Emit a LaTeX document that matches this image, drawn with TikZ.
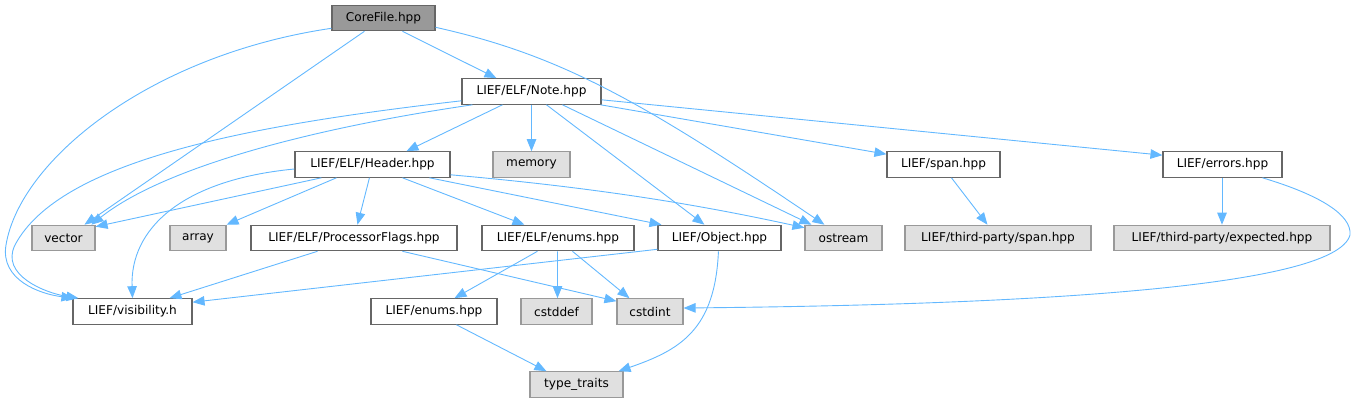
\documentclass[tikz,border=0pt]{standalone}
\usepackage{fontspec}
\setmainfont{DejaVu Sans}
\usetikzlibrary{arrows.meta}
\definecolor{edgec}{HTML}{63B8FF}
\definecolor{wborder}{HTML}{666666}
\definecolor{gborder}{HTML}{999999}
\definecolor{gfill}{HTML}{E0E0E0}
\definecolor{rfill}{HTML}{999999}
\tikzset{
  box/.style={rectangle, inner sep=0pt, minimum height=25.5pt, line width=1.1pt,
    font=\fontsize{12.1pt}{13pt}\selectfont, text=black, anchor=center},
  wbox/.style={box, draw=wborder, fill=white},
  gbox/.style={box, draw=gborder, fill=gfill},
  rootbox/.style={box, draw=wborder, fill=rfill},
  edge/.style={draw=edgec, line width=0.9pt, -{Triangle[length=12pt,width=9.5pt]}},
}
\begin{document}
\begin{tikzpicture}[x=1pt,y=-1pt]
\useasboundingbox (0,0) rectangle (1355,403);
% nodes
\node[rootbox, minimum width=103pt] (core) at (383.5,18) {CoreFile.hpp};
\node[wbox, minimum width=139pt] (note) at (531.5,91.5) {LIEF/ELF/Note.hpp};
\node[wbox, minimum width=155pt] (header) at (372.5,164.5) {LIEF/ELF/Header.hpp};
\node[gbox, minimum width=77pt] (memory) at (531.5,164.5) {memory};
\node[wbox, minimum width=113pt] (span) at (943.5,164.5) {LIEF/span.hpp};
\node[wbox, minimum width=119pt] (errors) at (1222.5,164.5) {LIEF/errors.hpp};
\node[gbox, minimum width=63pt] (vector) at (63.5,238) {vector};
\node[gbox, minimum width=56pt] (array) at (198,238) {array};
\node[wbox, minimum width=206pt] (pflags) at (354,238) {LIEF/ELF/ProcessorFlags.hpp};
\node[wbox, minimum width=152pt] (elfenums) at (558,238) {LIEF/ELF/enums.hpp};
\node[wbox, minimum width=123pt] (object) at (719.5,238) {LIEF/Object.hpp};
\node[gbox, minimum width=77pt] (ostream) at (843.5,238) {ostream};
\node[gbox, minimum width=186pt] (tpspan) at (998,238) {LIEF/third-party/span.hpp};
\node[gbox, minimum width=216pt] (tpexp) at (1222,238) {LIEF/third-party/expected.hpp};
\node[wbox, minimum width=119pt] (vis) at (132.5,311.5) {LIEF/visibility.h};
\node[wbox, minimum width=126pt] (lenums) at (434,311.5) {LIEF/enums.hpp};
\node[gbox, minimum width=71pt] (cstddef) at (556.5,311.5) {cstddef};
\node[gbox, minimum width=66pt] (cstdint) at (650,311.5) {cstdint};
\node[gbox, minimum width=93pt] (tt) at (576.5,384.5) {type\_traits};
% edges from CoreFile
\draw[edge] ([xshift=71]core.south west) -- ([xshift=35]note.north west);
\draw[edge] ([xshift=33]core.south west) -- ([xshift=53]vector.north west);
\draw[edge] ([yshift=3]core.south west) .. controls (150,55) and (20,160) .. (6,245)
  .. controls (0,280) and (40,294) .. ([xshift=1]vis.north west);
\draw[edge] ([yshift=4]core.south east) .. controls (560,55) and (640,100) .. ([xshift=20]ostream.north west);
% edges from Note
\draw[edge] ([xshift=41]note.south west) -- ([xshift=112]header.north west);
\draw[edge] (note.south) -- (memory.north);
\draw[edge] ([xshift=-1]note.south east) -- ([yshift=-3]span.north west);
\draw[edge] ([yshift=5]note.south east) -- ([yshift=-4]errors.north west);
\draw[edge] ([xshift=85]note.south west) -- ([xshift=47]object.north west);
\draw[edge] ([xshift=101]note.south west) -- ([xshift=7]ostream.north west);
\draw[edge] ([xshift=11]note.south west) .. controls (300,130) and (160,170) .. ([xshift=60]vector.north west);
\draw[edge] ([yshift=4]note.south west) .. controls (250,125) and (60,160) .. (15,245)
  .. controls (0,275) and (45,293) .. ([xshift=6]vis.north west);
% edges from Header
\draw[edge] ([xshift=27]header.south west) -- ([yshift=-2]vector.north east);
\draw[edge] ([xshift=42]header.south west) -- (array.north east);
\draw[edge] ([yshift=-4.5]header.west) .. controls (180,180) and (130,230) .. (vis.north);
\draw[edge] ([xshift=75]header.south west) -- ([xshift=107]pflags.north west);
\draw[edge] ([xshift=108]header.south west) -- ([xshift=43]elfenums.north west);
\draw[edge] ([xshift=135]header.south west) -- ([xshift=4]object.north west);
\draw[edge] ([yshift=3]header.south east) .. controls (600,188) and (700,205) .. ([yshift=-3]ostream.north west);
% edges from ProcessorFlags
\draw[edge] ([xshift=67]pflags.south west) -- ([xshift=97]vis.north west);
\draw[edge] ([xshift=152]pflags.south west) -- ([yshift=-3]cstdint.north west);
% edges from Object
\draw[edge] ([yshift=2]object.south west) -- ([yshift=-4]vis.north east);
\draw[edge] ([xshift=61]object.south west) .. controls (715,330) and (680,350) .. ([xshift=-5]tt.north east);
% edges from ELF enums
\draw[edge] ([xshift=56]elfenums.south west) -- ([xshift=84]lenums.north west);
\draw[edge] ([xshift=76]elfenums.south west) -- ([xshift=1]cstddef.north);
\draw[edge] ([xshift=91]elfenums.south west) -- ([xshift=13]cstdint.north west);
% edge from LIEF enums
\draw[edge] ([xshift=86]lenums.south west) -- ([xshift=17]tt.north west);
% edges from span and errors
\draw[edge] ([xshift=65]span.south west) -- ([xshift=83]tpspan.north west);
\draw[edge] ([xshift=-0.5]errors.south) -- (tpexp.north);
\draw[edge] ([xshift=100]errors.south west) .. controls (1320,195) and (1352,215) .. (1350,235)
  .. controls (1335,290) and (1000,305) .. ([yshift=3.5]cstdint.east);
\end{tikzpicture}
\end{document}
